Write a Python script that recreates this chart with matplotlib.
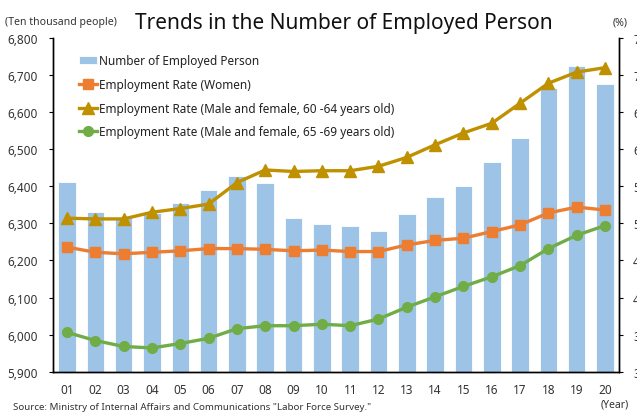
import matplotlib
matplotlib.use("Agg")
import matplotlib.pyplot as plt
import numpy as np

plt.rcParams['font.family'] = ['Noto Sans', 'DejaVu Sans']

# Data
years = ["01", "02", "03", "04", "05", "06", "07", "08", "09", "10",
         "11", "12", "13", "14", "15", "16", "17", "18", "19", "20"]
employed = [6412, 6330, 6316, 6329, 6356, 6389, 6427, 6409, 6314, 6298,
            6293, 6280, 6326, 6371, 6401, 6465, 6530, 6664, 6724, 6676]
rate_women = [46.8, 46.1, 45.9, 46.1, 46.3, 46.6, 46.6, 46.5, 46.3, 46.4,
              46.2, 46.2, 47.1, 47.7, 48.0, 48.9, 49.8, 51.4, 52.2, 51.8]
rate_60_64 = [50.7, 50.6, 50.6, 51.5, 52.0, 52.6, 55.5, 57.2, 57.0, 57.1,
              57.1, 57.7, 58.9, 60.6, 62.2, 63.5, 66.2, 68.9, 70.4, 71.0]
rate_65_69 = [35.3, 34.2, 33.4, 33.2, 33.8, 34.5, 35.8, 36.2, 36.2, 36.4,
              36.2, 37.1, 38.7, 40.1, 41.5, 42.8, 44.3, 46.6, 48.4, 49.7]

left_ticks = [5900, 6000, 6100, 6200, 6300, 6400, 6500, 6600, 6700, 6800]
right_ticks = [30, 35, 40, 45, 50, 55, 60, 65, 70, 75]

x = np.arange(len(years))

fig = plt.figure(figsize=(6.37, 4.14), dpi=100)
ax = fig.add_axes([0.083, 0.0998, 0.889, 0.806])
ax2 = ax.twinx()

bars = ax.bar(x, employed, width=0.62, color="#9DC3E6", edgecolor="white",
              linewidth=0.6, label="Number of Employed Person", zorder=1)
ax.set_ylim(5900, 6800)
ax.set_yticks(left_ticks)
ax.set_yticklabels([f"{v:,}" for v in left_ticks], fontsize=8.5, color="#333333")
ax.set_xlim(-0.5, len(years) - 0.5)
ax.set_xticks(x)
ax.set_xticklabels(years, fontsize=8.5, color="#333333")
ax.tick_params(axis="x", length=0, pad=8)
ax.tick_params(axis="y", length=3, width=0.8, pad=8)

lw = 2.4
l1, = ax2.plot(x, rate_women, color="#ED7D31", lw=lw, marker="s", ms=7,
               label="Employment Rate (Women)")
l2, = ax2.plot(x, rate_60_64, color="#BF9000", lw=lw, marker="^", ms=8,
               label="Employment Rate (Male and female, 60 -64 years old)")
l3, = ax2.plot(x, rate_65_69, color="#70AD47", lw=lw, marker="o", ms=7,
               label="Employment Rate (Male and female, 65 -69 years old)")
ax2.set_ylim(30, 75)
ax2.set_yticks(right_ticks)
ax2.set_yticklabels([str(v) for v in right_ticks], fontsize=8.5, color="#333333")
ax2.tick_params(axis="y", length=3, width=0.8, pad=7)

for a in (ax, ax2):
    a.spines["top"].set_visible(False)
    for s in ("left", "right", "bottom"):
        a.spines[s].set_linewidth(1.0)
        a.spines[s].set_color("black")

leg = ax2.legend([bars, l1, l2, l3], [bars.get_label(), l1.get_label(),
                 l2.get_label(), l3.get_label()],
                 loc="upper left", bbox_to_anchor=(0.038, 0.965),
                 frameon=False, fontsize=8.5, handlelength=1.55,
                 handletextpad=0.15, labelspacing=0.9, borderaxespad=0)
for t in leg.get_texts():
    t.set_color("#222222")

fig.text(0.54, 0.943, "Trends in the Number of Employed Person",
         fontsize=15, ha="center", va="center", color="#111111")
fig.text(0.008, 0.945, "(Ten thousand people)", fontsize=7.6, ha="left",
         va="center", color="#333333")
fig.text(0.962, 0.945, "(%)", fontsize=7.6, ha="left", va="center",
         color="#333333")
fig.text(0.943, 0.022, "(Year)", fontsize=7.5, ha="left", va="center",
         color="#333333")
fig.text(0.02, 0.015,
         'Source: Ministry of Internal Affairs and Communications "Labor Force Survey."',
         fontsize=7, ha="left", va="center", color="#333333")

fig.savefig("out.png", dpi=100)
